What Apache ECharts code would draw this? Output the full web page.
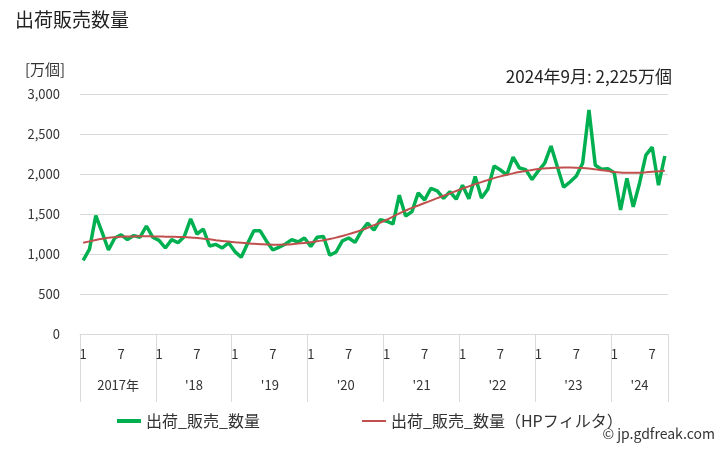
<!DOCTYPE html>
<html>
<head>
<meta charset="utf-8">
<script src="https://cdn.jsdelivr.net/npm/echarts@6/dist/echarts.min.js"></script>
<style>
  html, body { margin: 0; padding: 0; background: #fff; }
  #chart { width: 728px; height: 450px; }
</style>
</head>
<body>
<div id="chart"></div>
<script>
// 年ラベル（2017年1月〜2024年9月）
const years = ['2017年', "'18", "'19", "'20", "'21", "'22", "'23", "'24"];
const monthsInYear = [12, 12, 12, 12, 12, 12, 12, 9];
const monthTicks = ['1', '7'];

// 出荷_販売_数量（万個）
const sales = [
  920, 1060, 1480, 1270, 1050, 1200, 1240, 1180, 1230, 1210, 1350, 1210,
  1170, 1075, 1180, 1140, 1220, 1440, 1250, 1310, 1100, 1120, 1075, 1140,
  1030, 960, 1130, 1290, 1290, 1160, 1050, 1085, 1125, 1180, 1150, 1200,
  1095, 1210, 1220, 985, 1025, 1165, 1200, 1145, 1285, 1385, 1300, 1430,
  1410, 1375, 1735, 1475, 1530, 1765, 1675, 1820, 1790, 1695, 1780, 1685,
  1860, 1690, 1970, 1700, 1810, 2100, 2050, 1990, 2210, 2075, 2055, 1930,
  2040, 2135, 2350, 2090, 1835, 1900, 1975, 2135, 2800, 2110, 2060, 2065,
  2015, 1550, 1945, 1590, 1885, 2235, 2335, 1860, 2225
];

// 出荷_販売_数量（HPフィルタ）
const trend = [
  1140, 1158, 1175, 1190, 1203, 1210, 1215, 1218, 1220, 1221, 1221, 1220,
  1218, 1217, 1216, 1214, 1211, 1207, 1200, 1192, 1183, 1173, 1163, 1155,
  1147, 1140, 1133, 1127, 1123, 1119, 1117, 1117, 1119, 1123, 1130, 1138,
  1147, 1158, 1172, 1187, 1205, 1226, 1248, 1272, 1298, 1328, 1360, 1393,
  1428, 1468, 1508, 1543, 1576, 1606, 1637, 1667, 1698, 1728, 1758, 1788,
  1818, 1846, 1873, 1899, 1924, 1948, 1970, 1990, 2008, 2024, 2038, 2050,
  2062, 2070, 2076, 2079, 2080, 2080, 2079, 2075, 2068, 2058, 2048, 2037,
  2025, 2018, 2015, 2015, 2017, 2022, 2028, 2034, 2040
];

const latestLabel = '2024年9月: 2,225万個';

// カテゴリ（月）
const cats = [];
const catMonth = [];
const catYear = [];
years.forEach((y, yi) => {
  for (let m = 1; m <= monthsInYear[yi]; m++) {
    cats.push(yi + '-' + m);
    catMonth.push(m);
    catYear.push(yi);
  }
});

const font = '"Noto Sans CJK JP", "Noto Sans", sans-serif';
const gray = '#d9d9d9';
const textColor = '#333';
const green = '#00b050';
const red = '#c0504d';

const myChart = echarts.init(document.getElementById('chart'));
myChart.setOption({
  animation: false,
  textStyle: { fontFamily: font, color: textColor },
  title: [
    { text: '出荷販売数量', left: 15, top: 10, padding: 0, textStyle: { fontSize: 19, fontWeight: 'normal', color: '#222', fontFamily: font } },
    { text: '[万個]', left: 25, top: 62, padding: 0, textStyle: { fontSize: 15, fontWeight: 'normal', color: textColor, fontFamily: font } },
    { text: latestLabel, right: 56, top: 68, padding: 0, textStyle: { fontSize: 17, fontWeight: 'normal', color: '#222', fontFamily: font } },
    { text: '© jp.gdfreak.com', right: 13, top: 427, padding: 0, textStyle: { fontSize: 14, fontWeight: 'normal', color: textColor, fontFamily: font } }
  ],
  legend: [
    {
      data: [{ name: '出荷_販売_数量', icon: 'rect' }],
      left: 112, top: 408, itemWidth: 24, itemHeight: 4, itemGap: 5,
      textStyle: { fontSize: 16, color: textColor, fontFamily: font }
    },
    {
      data: [{ name: '出荷_販売_数量（HPフィルタ）', icon: 'rect' }],
      left: 357, top: 408, itemWidth: 24, itemHeight: 2, itemGap: 5,
      textStyle: { fontSize: 16, color: textColor, fontFamily: font }
    }
  ],
  grid: { left: 80, right: 60, top: 94, bottom: 116 },
  xAxis: [
    {
      type: 'category',
      data: cats,
      boundaryGap: true,
      axisLine: { lineStyle: { color: gray } },
      axisTick: {
        show: true, length: 68, lineStyle: { color: gray },
        interval: (i) => catMonth[i] === 1
      },
      axisLabel: {
        interval: (i) => monthTicks.indexOf(String(catMonth[i])) >= 0,
        formatter: (v, i) => String(catMonth[i]),
        margin: 14, fontSize: 13, color: textColor, fontFamily: font
      }
    },
    {
      type: 'category',
      data: cats,
      position: 'bottom',
      boundaryGap: true,
      axisLine: { show: false },
      axisTick: { show: false },
      axisLabel: {
        interval: (i) => catMonth[i] === (monthsInYear[catYear[i]] === 12 ? 7 : 5),
        formatter: (v, i) => monthsInYear[catYear[i]] === 12 ? '{a|' + years[catYear[i]] + '}' : '{b|' + years[catYear[i]] + '}',
        margin: 45, fontSize: 13, color: textColor, fontFamily: font,
        rich: {
          a: { fontSize: 13, color: textColor, fontFamily: font, padding: [0, 6, 0, 0] },
          b: { fontSize: 13, color: textColor, fontFamily: font }
        }
      }
    }
  ],
  yAxis: {
    type: 'value',
    min: 0,
    max: 3000,
    interval: 500,
    axisLine: { show: false },
    axisTick: { show: false },
    splitLine: { lineStyle: { color: gray } },
    axisLabel: {
      margin: 20, fontSize: 13, color: textColor, fontFamily: font,
      formatter: (v) => v.toLocaleString('en-US')
    }
  },
  series: [
    {
      name: '出荷_販売_数量',
      type: 'line',
      data: sales,
      symbol: 'none',
      color: green,
      itemStyle: { color: green },
      lineStyle: { width: 3.5, color: green },
      z: 3
    },
    {
      name: '出荷_販売_数量（HPフィルタ）',
      type: 'line',
      data: trend,
      symbol: 'none',
      smooth: true,
      color: red,
      itemStyle: { color: red },
      lineStyle: { width: 2, color: red },
      z: 4
    }
  ]
});
</script>
</body>
</html>
